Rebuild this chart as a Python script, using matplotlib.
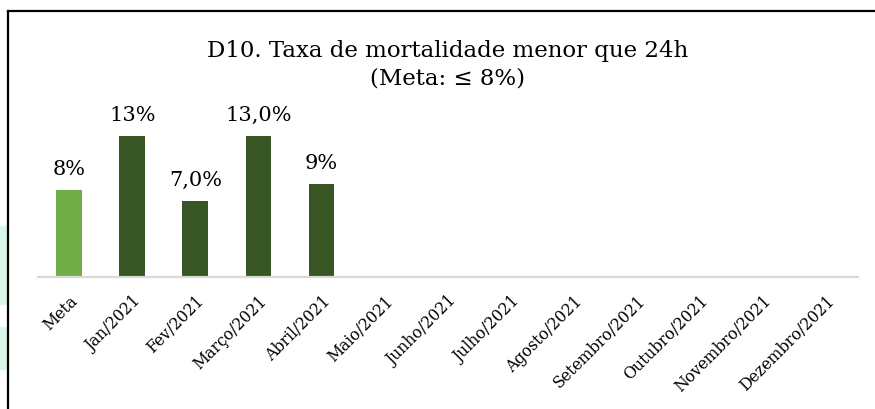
import matplotlib
matplotlib.use("Agg")
import matplotlib.pyplot as plt
from matplotlib.patches import Rectangle
from matplotlib.lines import Line2D

categories = ["Meta", "Jan/2021", "Fev/2021", "Março/2021", "Abril/2021", "Maio/2021",
              "Junho/2021", "Julho/2021", "Agosto/2021", "Setembro/2021", "Outubro/2021",
              "Novembro/2021", "Dezembro/2021"]
values = [8.0, 13.0, 7.0, 13.0, 8.6, None, None, None, None, None, None, None, None]
labels = ["8%", "13%", "7,0%", "13,0%", "9%", "", "", "", "", "", "", "", ""]
title_line1 = "D10. Taxa de mortalidade menor que 24h"
title_line2 = "(Meta: ≤ 8%)"

plt.rcParams['font.family'] = ['DejaVu Serif']

W, H = 875, 410
fig = plt.figure(figsize=(W / 100, H / 100), dpi=100)

# left mint strips
for y0, y1 in [(227, 305), (328, 370)]:
    fig.patches.append(Rectangle((0, 1 - y1 / H), 6 / W, (y1 - y0) / H,
                                 transform=fig.transFigure, color="#d9f7e8", zorder=0))
# frame lines
fig.add_artist(Line2D([7.5 / W, 7.5 / W], [0, 1 - 12 / H], transform=fig.transFigure,
                      color="black", lw=1.6))
fig.add_artist(Line2D([7.5 / W, 1], [1 - 12 / H, 1 - 12 / H], transform=fig.transFigure,
                      color="black", lw=1.6))

left, right = 37.7 / W, 857.7 / W
base = 277.5
ymax = 14
pxper = 10.78
bottom = 1 - base / H
top = (H - base + ymax * pxper) / H
ax = fig.add_axes([left, bottom, right - left, top - bottom])

x = list(range(len(categories)))
colors = ["#70AD47"] + ["#375623"] * (len(categories) - 1)
for i, (v, c, lab) in enumerate(zip(values, colors, labels)):
    if v is None:
        continue
    ax.bar(i, v, width=0.41, color=c, zorder=2)
    ax.annotate(lab, (i, v), xytext=(0, 11.5), textcoords="offset points",
                ha="center", va="baseline", fontsize=15, color="black")

ax.set_xlim(-0.5, len(categories) - 0.5)
ax.set_ylim(0, ymax)
ax.set_xticks(x)
ax.set_xticklabels(categories, rotation=45, ha="right", rotation_mode="anchor", fontsize=11.3)
ax.tick_params(axis="x", length=0, pad=11)
ax.set_yticks([])
for s in ["top", "right", "left"]:
    ax.spines[s].set_visible(False)
ax.spines["bottom"].set_color("#d9d9d9")
ax.spines["bottom"].set_linewidth(1.6)
ax.patch.set_alpha(0)

fig.text(448 / W, 1 - 57 / H, title_line1, ha="center",
         va="baseline", fontsize=16.5, color="black")
fig.text(448 / W, 1 - 85 / H, title_line2, ha="center", va="baseline",
         fontsize=16.5, color="black")

fig.savefig("out.png", dpi=100)
